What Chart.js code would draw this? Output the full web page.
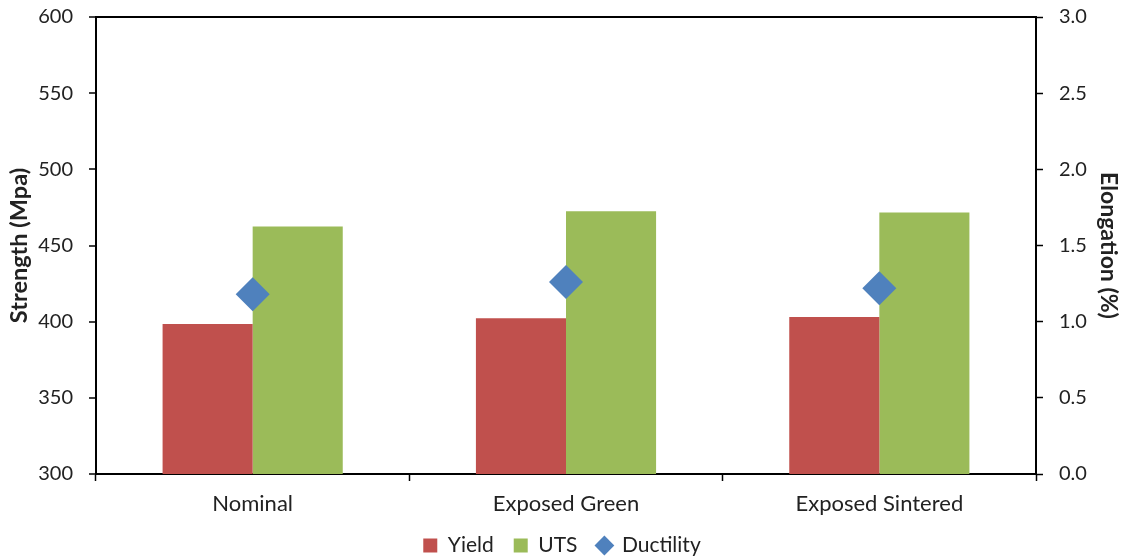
<!DOCTYPE html>
<html>
<head>
<meta charset="utf-8">
<script src="https://cdn.jsdelivr.net/npm/chart.js@4/dist/chart.umd.min.js"></script>
<style>
  html, body { margin: 0; padding: 0; background: #fff; }
  #wrap { width: 1124px; height: 559px; }
</style>
</head>
<body>
<div id="wrap"><canvas id="c" width="1124" height="559"></canvas></div>
<script>
// Tensile results per specimen condition
const categories = ['Nominal', 'Exposed Green', 'Exposed Sintered'];
const yieldStrength = [398.5, 402.3, 403.0];   // MPa
const utsStrength = [462.5, 472.5, 471.7];     // MPa
const ductility = [1.18, 1.26, 1.22];          // elongation, %

const FONT = 'Lato, "Open Sans", sans-serif';
const TEXT = '#222';

// Fixed axis box sizes; tick padding should not inflate the vertical margins
function fitSide(width) {
  return s => { s.width = width; s.paddingTop = 10; s.paddingBottom = 10; };
}

new Chart(document.getElementById('c'), {
  type: 'bar',
  data: {
    labels: categories,
    datasets: [
      { label: 'Yield', data: yieldStrength, backgroundColor: '#C0504D', yAxisID: 'y', order: 2,
        pointStyle: 'rect' },
      { label: 'UTS', data: utsStrength, backgroundColor: '#9BBB59', yAxisID: 'y', order: 2,
        pointStyle: 'rect' },
      { type: 'line', label: 'Ductility', data: ductility, yAxisID: 'y2', order: 0,
        showLine: false, pointStyle: 'rectRot', pointRadius: 17, pointHoverRadius: 17,
        backgroundColor: '#4F81BD', borderColor: '#4F81BD', borderWidth: 0 }
    ]
  },
  options: {
    responsive: false,
    animation: false,
    layout: { padding: { top: 17, bottom: -7, left: 0, right: 0 } },
    datasets: { bar: { categoryPercentage: 0.575, barPercentage: 1.0 } },
    plugins: {
      tooltip: { enabled: false },
      legend: {
        position: 'bottom',
        labels: {
          usePointStyle: true,
          boxHeight: 14,
          boxWidth: 14,
          padding: 20,
          color: TEXT,
          font: { family: FONT, size: 21 },
          sort: (a, b) => a.datasetIndex - b.datasetIndex
        }
      }
    },
    scales: {
      x: {
        offset: true,
        grid: { display: true, offset: true, drawOnChartArea: false, color: '#000', tickLength: 7, tickWidth: 1.5 },
        border: { color: '#000', width: 2 },
        ticks: { color: TEXT, font: { family: FONT, size: 22 }, padding: 10 },
        afterFit: s => { s.height = 41; }
      },
      y: {
        position: 'left',
        min: 300, max: 600,
        ticks: { stepSize: 50, color: TEXT, font: { family: FONT, size: 20 }, padding: 16 },
        grid: {
          color: c => (c.tick && c.tick.value === 600 ? '#000' : 'rgba(0,0,0,0)'),
          lineWidth: 2,
          tickColor: '#000', tickLength: 7, tickWidth: 1.5
        },
        border: { color: '#000', width: 2 },
        title: { display: true, text: 'Strength (Mpa)', color: TEXT,
                 font: { family: FONT, size: 23.5, weight: 'bold' }, padding: { top: 5, bottom: 0 } },
        afterFit: fitSide(96)
      },
      y2: {
        position: 'right',
        min: 0, max: 3,
        ticks: { stepSize: 0.5, color: TEXT, font: { family: FONT, size: 20 }, padding: 16,
                 callback: v => Number(v).toFixed(1) },
        grid: { drawOnChartArea: false, tickColor: '#000', tickLength: 7, tickWidth: 1.5 },
        border: { color: '#000', width: 2 },
        title: { display: true, text: 'Elongation (%)', color: TEXT,
                 font: { family: FONT, size: 23, weight: 'bold' }, padding: { top: 2, bottom: 0 } },
        afterFit: fitSide(88)
      }
    }
  }
});
</script>
</body>
</html>
